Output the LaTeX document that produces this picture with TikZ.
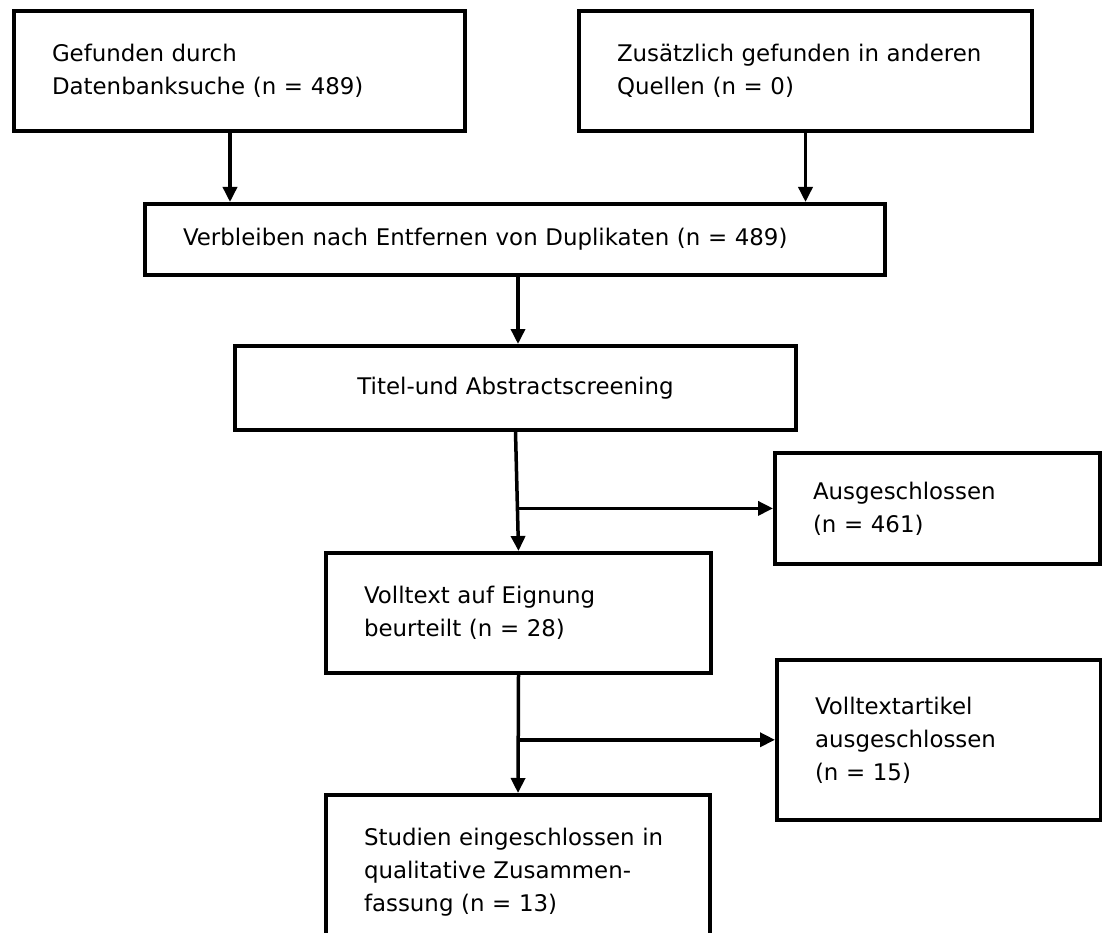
\documentclass[tikz,border=0pt]{standalone}
\usepackage{fontspec}
\setmainfont{DejaVu Sans}
\usetikzlibrary{arrows.meta,calc}
\begin{document}
\begin{tikzpicture}[x=1pt,y=-1pt,
  font=\fontsize{22.9}{33}\selectfont,
  box/.style={draw=black, line width=4pt, rectangle, anchor=north west,
    inner xsep=38pt, inner ysep=0pt, align=left},
  arr/.style={line width=3.5pt, -{Triangle[length=15pt,width=14pt]}}]
\useasboundingbox (0,0) rectangle (1102,933);
\clip (0,0) rectangle (1102,933);
\node[box, text width=375pt, minimum height=120pt] (b1) at (12,9)
  {Gefunden durch\\Datenbanksuche (n = 489)};
\node[box, text width=377pt, minimum height=120pt] (b2) at (577,9)
  {Zusätzlich gefunden in anderen\\Quellen (n = 0)};
\node[box, text width=664pt, minimum height=71pt] (b3) at (143,202)
  {Verbleiben nach Entfernen von Duplikaten (n = 489)};
\node[box, text width=485pt, minimum height=84pt, align=center] (b4) at (233,344)
  {Titel-und Abstractscreening};
\node[box, text width=249pt, minimum height=111pt] (ausg) at (773,451)
  {Ausgeschlossen\\(n = 461)};
\node[box, text width=309pt, minimum height=120pt] (b6) at (324,551)
  {Volltext auf Eignung\\beurteilt (n = 28)};
\node[box, text width=248pt, minimum height=160pt] (b7) at (775,658)
  {Volltextartikel\\ausgeschlossen\\(n = 15)};
\node[box, text width=308pt, minimum height=155pt] (b8) at (324,793)
  {Studien eingeschlossen in\\qualitative Zusammen-\\fassung (n = 13)};
\draw[arr] ([xshift=-9.5pt]b1.south) -- ([xshift=-9.5pt]b1.south |- b3.north);
\draw[arr] (b2.south) -- (b2.south |- b3.north);
\draw[arr] ([xshift=3pt]b3.south) -- ([xshift=3pt]b3.south |- b4.north);
\draw[arr] (b4.south) -- (b6.north);
\coordinate (j1) at ($(b4.south)!0.642!(b6.north)$);
\draw[arr] (j1) -- (j1 -| ausg.west);
\draw[arr] (b6.south) -- (b8.north);
\coordinate (j2) at ($(b6.south)!0.549!(b8.north)$);
\draw[arr] (j2) -- (j2 -| b7.west);
\end{tikzpicture}
\end{document}
